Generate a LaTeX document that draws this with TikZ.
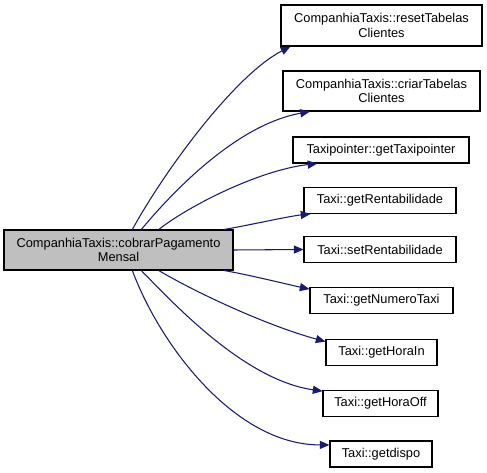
\documentclass[tikz,border=0pt]{standalone}
\usepackage{fontspec}
\setmainfont{Liberation Sans}
\usetikzlibrary{arrows.meta}
\definecolor{callblue}{HTML}{191970}
\definecolor{rootgray}{HTML}{BFBFBF}
\tikzset{
  fn node/.style={
    rectangle, draw=black, fill=white, line width=0.6pt,
    align=center, font=\fontsize{7.3}{8.2}\selectfont,
    inner sep=0pt, minimum height=0.52cm
  },
  fn root/.style={
    fn node, fill=rootgray, minimum height=0.8cm
  },
  call arrow/.style={
    draw=callblue, line width=0.6pt,
    -{Triangle[length=5.5pt, width=4.6pt]}
  }
}

\begin{document}
\begin{tikzpicture}[x=0.02cm, y=-0.02cm]
\useasboundingbox (0,0) rectangle (487,473);

% ====== caller ======
\node[fn root, minimum width=4.58cm] (root) at (118.5,250) {CompanhiaTaxis::cobrarPagamento\\Mensal};

% ====== callees ======
\node[fn node, minimum width=4.02cm, minimum height=0.82cm] (reset) at (381.5,25.5) {CompanhiaTaxis::resetTabelas\\Clientes};
\node[fn node, minimum width=3.94cm, minimum height=0.8cm] (criar) at (381.5,91) {CompanhiaTaxis::criarTabelas\\Clientes};
\node[fn node, minimum width=3.52cm] (getptr) at (381,150) {Taxipointer::getTaxipointer};
\node[fn node, minimum width=3.04cm] (getrent) at (380,200.5) {Taxi::getRentabilidade};
\node[fn node, minimum width=3.04cm] (setrent) at (380,249.5) {Taxi::setRentabilidade};
\node[fn node, minimum width=2.86cm] (getnum) at (381.5,300.5) {Taxi::getNumeroTaxi};
\node[fn node, minimum width=2.22cm] (horain) at (381.5,352.5) {Taxi::getHoraIn};
\node[fn node, minimum width=2.30cm] (horaoff) at (380.5,403.5) {Taxi::getHoraOff};
\node[fn node, minimum width=2.04cm] (dispo) at (381,454) {Taxi::getdispo};

% ====== calls ======
\draw[call arrow] (root.56) .. controls (165,170) and (235,75) .. (reset.193);
\draw[call arrow] (root.42) .. controls (170,195) and (235,125) .. (criar.196);
\draw[call arrow] (root.27) .. controls (190,205) and (260,170) .. (getptr.192);
\draw[call arrow] (root.11) .. controls (250,225) and (290,216) .. (getrent.191);
\draw[call arrow] (root.east) -- (setrent.west);
\draw[call arrow] (root.-11) .. controls (250,275) and (290,285) .. (getnum.171);
\draw[call arrow] (root.-27) .. controls (195,292) and (265,325) .. (horain.169);
\draw[call arrow] (root.-42) .. controls (175,305) and (245,380) .. (horaoff.168);
\draw[call arrow] (root.-56) .. controls (160,345) and (235,445) .. (dispo.170);

\end{tikzpicture}
\end{document}
